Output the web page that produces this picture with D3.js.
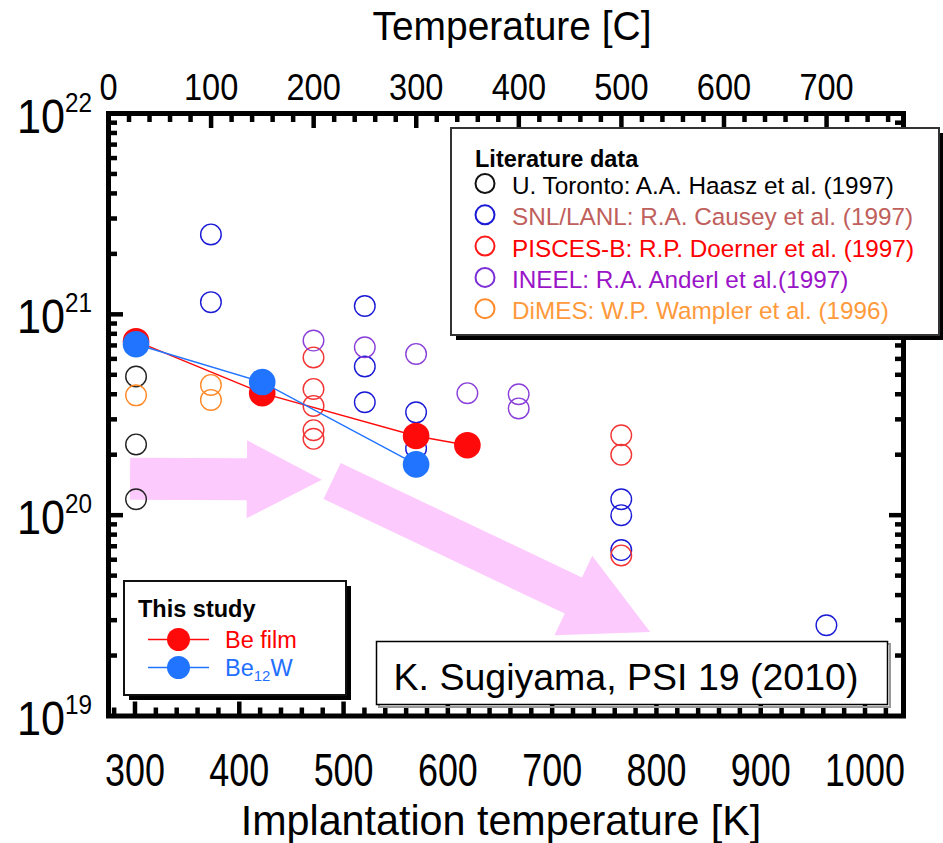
<!DOCTYPE html>
<html>
<head>
<meta charset="utf-8">
<script src="https://cdn.jsdelivr.net/npm/d3@7"></script>
<style>
  html, body { margin: 0; padding: 0; background: #fff; }
  svg { display: block; font-family: "Liberation Sans", Arial, Helvetica, sans-serif; }
</style>
</head>
<body>
<svg id="chart" width="943" height="843"></svg>
<script>
// ---- Retained deuterium vs. implantation temperature ----
// Literature data sets (temperature in K, retention in D/m^2)
const torontoK   = [300, 300, 300];
const torontoVal = [4.9e20, 2.25e20, 1.2e20];

const snlK   = [373, 373, 523, 523, 523, 573, 573, 773, 773, 773, 973];
const snlVal = [2.5e21, 1.15e21, 1.1e21, 5.5e20, 3.65e20, 3.25e20, 2.15e20, 1.2e20, 1.0e20, 6.7e19, 2.83e19];

const piscesK   = [473, 473, 473, 473, 473, 773, 773, 773];
const piscesVal = [6.1e20, 4.25e20, 3.5e20, 2.65e20, 2.4e20, 2.5e20, 2.0e20, 6.3e19];

const ineelK   = [473, 523, 573, 623, 673, 673];
const ineelVal = [7.4e20, 6.85e20, 6.35e20, 4.05e20, 4.0e20, 3.4e20];

const dimesK   = [300, 373, 373];
const dimesVal = [3.95e20, 4.45e20, 3.75e20];

// This study
const beFilmK   = [300, 423, 573, 623];
const beFilmVal = [7.35e20, 4.05e20, 2.48e20, 2.23e20];
const be12wK    = [300, 423, 573];
const be12wVal  = [7.1e20, 4.6e20, 1.79e20];

// Axis ticks
const topTicksC    = [0, 100, 200, 300, 400, 500, 600, 700];
const bottomTicksK = [300, 400, 500, 600, 700, 800, 900, 1000];
const decadeExps   = [19, 20, 21, 22];

// Trend arrows: [tail °C, tail value, tip °C, tip value]
const arrowA = [21, 1.52e20, 208, 1.5e20];
const arrowB = [218, 1.48e20, 528, 2.62e19];

const litLegend = [
  { label: "U. Toronto: A.A. Haasz et al. (1997)",   stroke: "#111111", text: "#000000" },
  { label: "SNL/LANL: R.A. Causey et al. (1997)",    stroke: "#1a1ad6", text: "#c0605c" },
  { label: "PISCES-B: R.P. Doerner et al. (1997)",   stroke: "#ff1a1a", text: "#ff0000" },
  { label: "INEEL: R.A. Anderl et al.(1997)",        stroke: "#7b2fd6", text: "#9a14c8" },
  { label: "DiMES: W.P. Wampler et al. (1996)",      stroke: "#ff8a2a", text: "#ff9a3c" }
];

const svg = d3.select("#chart");
const frame = { left: 108.5, right: 903.5, top: 113.5, bottom: 716 };

const xC = d3.scaleLinear().domain([0, 775]).range([frame.left, frame.right]);
const xK = d3.scaleLinear().domain([274.6, 1036.9]).range([frame.left, frame.right]);
const y  = d3.scaleLog().domain([1e19, 1e22]).range([frame.bottom, frame.top]);
const px = k => xC(k - 273.15);

// ---- pink trend arrows ----
function arrowPath(a, bodyHalf, headHalf, headLen) {
  const x0 = xC(a[0]), y0 = y(a[1]), x1 = xC(a[2]), y1 = y(a[3]);
  const L = Math.hypot(x1 - x0, y1 - y0);
  const ux = (x1 - x0) / L, uy = (y1 - y0) / L;
  const nx = -uy, ny = ux;
  const bx = x1 - ux * headLen, by = y1 - uy * headLen;
  const p = [
    [x0 + nx * bodyHalf, y0 + ny * bodyHalf],
    [bx + nx * bodyHalf, by + ny * bodyHalf],
    [bx + nx * headHalf, by + ny * headHalf],
    [x1, y1],
    [bx - nx * headHalf, by - ny * headHalf],
    [bx - nx * bodyHalf, by - ny * bodyHalf],
    [x0 - nx * bodyHalf, y0 - ny * bodyHalf]
  ];
  return "M" + p.map(d => d.join(",")).join("L") + "Z";
}
const arrows = svg.append("g").attr("fill", "#fccafc");
arrows.append("path").attr("d", arrowPath(arrowA, 21, 39, 75));
arrows.append("path").attr("d", arrowPath(arrowB, 20, 44, 85));

// ---- literature data (hollow circles) ----
const litSets = [
  [torontoK, torontoVal, "#222222"],
  [dimesK, dimesVal, "#ff8a2a"],
  [snlK, snlVal, "#1a1ad6"],
  [piscesK, piscesVal, "#f23434"],
  [ineelK, ineelVal, "#8a40d8"]
];
const lit = svg.append("g").attr("fill", "none").attr("stroke-width", 1.4);
litSets.forEach(([ks, vs, col]) => {
  lit.selectAll(null).data(ks.map((k, i) => [k, vs[i]])).enter()
    .append("circle")
    .attr("cx", d => px(d[0])).attr("cy", d => y(d[1])).attr("r", 10.3)
    .attr("stroke", col);
});

// ---- this study (filled circles with lines) ----
const line = d3.line().x(d => px(d[0])).y(d => y(d[1]));
function study(ks, vs, col) {
  const pts = ks.map((k, i) => [k, vs[i]]);
  const g = svg.append("g");
  g.append("path").attr("d", line(pts)).attr("fill", "none").attr("stroke", col).attr("stroke-width", 1.4);
  g.selectAll("circle").data(pts).enter().append("circle")
    .attr("cx", d => px(d[0])).attr("cy", d => y(d[1])).attr("r", 13.3).attr("fill", col);
}
study(beFilmK, beFilmVal, "#ff0a0a");
study(be12wK, be12wVal, "#2174ff");

// ---- frame and inward ticks ----
const ax = svg.append("g").attr("stroke", "#000");
const minorC = d3.range(20, 775, 20).filter(v => v % 100 !== 0);
const minorK = d3.range(280, 1037, 20).filter(v => v % 100 !== 0);
const tickW = 4.5, inner = 2.5;
function vtick(x, yEdge, dir, len) {
  ax.append("line").attr("x1", x).attr("x2", x)
    .attr("y1", yEdge).attr("y2", yEdge + dir * (inner + len)).attr("stroke-width", tickW);
}
function htick(yv, xEdge, dir, len) {
  ax.append("line").attr("y1", yv).attr("y2", yv)
    .attr("x1", xEdge).attr("x2", xEdge + dir * (inner + len)).attr("stroke-width", tickW);
}
topTicksC.forEach(c => { if (c > 0) vtick(xC(c), frame.top, 1, 12); });
minorC.forEach(c => vtick(xC(c), frame.top, 1, 6));
bottomTicksK.forEach(k => vtick(xK(k), frame.bottom, -1, 12));
minorK.forEach(k => vtick(xK(k), frame.bottom, -1, 6));
decadeExps.forEach(e => {
  const v = Math.pow(10, e);
  if (e > 19 && e < 22) { htick(y(v), frame.left, 1, 12); htick(y(v), frame.right, -1, 12); }
  if (e < 22) d3.range(2, 10).forEach(m => {
    htick(y(m * v), frame.left, 1, 6); htick(y(m * v), frame.right, -1, 6);
  });
});
ax.append("rect")
  .attr("x", frame.left).attr("y", frame.top)
  .attr("width", frame.right - frame.left).attr("height", frame.bottom - frame.top)
  .attr("fill", "none").attr("stroke-width", 5);

// ---- tick labels ----
const txt = svg.append("g").attr("fill", "#000");
// condensed text: draw at (x, y) with horizontal squeeze sx
function narrowText(g, x, yy, sx, size, s, anchor) {
  return g.append("text")
    .attr("transform", `translate(${x},${yy}) scale(${sx},1)`)
    .attr("text-anchor", anchor || "middle").attr("font-size", size).text(s);
}
topTicksC.forEach(c => narrowText(txt, xC(c), 100, 0.88, 37, c));
bottomTicksK.forEach(k => narrowText(txt, xK(k), 786, 0.78, 46, k));
decadeExps.forEach(e => {
  const t = txt.append("text")
    .attr("transform", `translate(92,${y(Math.pow(10, e)) + 19}) scale(0.9,1)`)
    .attr("text-anchor", "end").attr("font-size", 48);
  t.append("tspan").text("10");
  t.append("tspan").attr("font-size", 27).attr("dy", -21).text(e);
});

// ---- axis titles ----
narrowText(txt, 512, 40, 0.95, 41, "Temperature [C]");
narrowText(txt, 501, 835, 0.96, 43, "Implantation temperature [K]");

// ---- literature legend ----
const lg = svg.append("g");
const lgBox = { x: 451, y: 128, w: 488, h: 207 };
lg.append("rect").attr("x", lgBox.x + 5).attr("y", lgBox.y + 5)
  .attr("width", lgBox.w).attr("height", lgBox.h).attr("fill", "#000");
lg.append("rect").attr("x", lgBox.x).attr("y", lgBox.y)
  .attr("width", lgBox.w).attr("height", lgBox.h)
  .attr("fill", "#fff").attr("stroke", "#333").attr("stroke-width", 2);
lg.append("text").attr("x", 475).attr("y", 166.5).attr("font-size", 23.5)
  .attr("font-weight", "bold").text("Literature data");
litLegend.forEach((d, i) => {
  const yy = 194 + i * 31.3;
  lg.append("circle").attr("cx", 485).attr("cy", yy - 10.5).attr("r", 9.5)
    .attr("fill", "none").attr("stroke", d.stroke).attr("stroke-width", 2);
  lg.append("text").attr("x", 512).attr("y", yy).attr("font-size", 24.3)
    .attr("fill", d.text).text(d.label);
});

// ---- this-study legend ----
const sg = svg.append("g");
const sgBox = { x: 124, y: 581, w: 222, h: 114 };
sg.append("rect").attr("x", sgBox.x + 5).attr("y", sgBox.y + 5)
  .attr("width", sgBox.w).attr("height", sgBox.h).attr("fill", "#000");
sg.append("rect").attr("x", sgBox.x).attr("y", sgBox.y)
  .attr("width", sgBox.w).attr("height", sgBox.h)
  .attr("fill", "#fff").attr("stroke", "#111").attr("stroke-width", 2);
sg.append("text").attr("x", 138).attr("y", 617).attr("font-size", 23.5)
  .attr("font-weight", "bold").text("This study");
[["Be film", "#ff0a0a", "#ff0000", 639.5], [null, "#2174ff", "#1f6fff", 667.5]].forEach(([lab, col, tcol, yy]) => {
  sg.append("line").attr("x1", 148).attr("x2", 209).attr("y1", yy).attr("y2", yy)
    .attr("stroke", col).attr("stroke-width", 1.4);
  sg.append("circle").attr("cx", 178.5).attr("cy", yy).attr("r", 11.5).attr("fill", col);
  const t = sg.append("text").attr("x", 225).attr("y", yy + 8).attr("font-size", 23.5).attr("fill", tcol);
  if (lab) t.text(lab);
  else {
    t.append("tspan").text("Be");
    t.append("tspan").attr("font-size", 15).attr("dy", 5).text("12");
    t.append("tspan").attr("dy", -5).text("W");
  }
});

// ---- citation box ----
const cg = svg.append("g");
cg.append("rect").attr("x", 379).attr("y", 644).attr("width", 511).attr("height", 63)
  .attr("fill", "none").attr("stroke", "#999").attr("stroke-width", 2);
cg.append("rect").attr("x", 376.5).attr("y", 641.5).attr("width", 511).attr("height", 63)
  .attr("fill", "#fff").attr("stroke", "#000").attr("stroke-width", 1.5);
cg.append("text").attr("x", 626).attr("y", 690).attr("text-anchor", "middle")
  .attr("font-size", 37.5).text("K. Sugiyama, PSI 19 (2010)");
</script>
</body>
</html>
